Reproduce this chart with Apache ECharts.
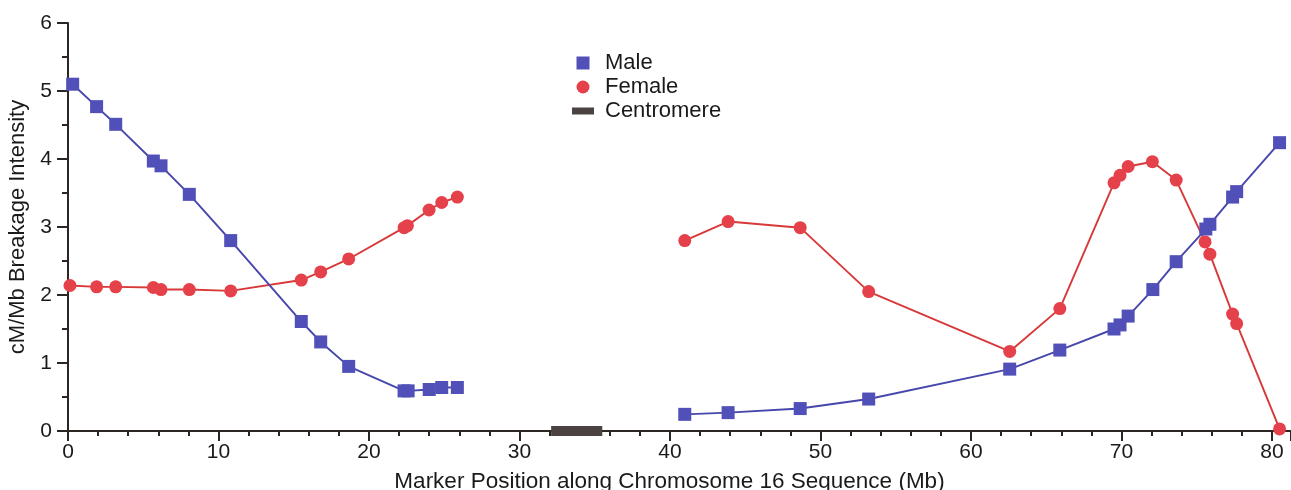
<!DOCTYPE html>
<html>
<head>
<meta charset="utf-8">
<script src="https://cdn.jsdelivr.net/npm/echarts@6/dist/echarts.min.js"></script>
<style>
  html, body { margin: 0; padding: 0; background: #fff; }
  #chart { width: 1291px; height: 490px; }
</style>
</head>
<body>
<div id="chart"></div>
<script>
// marker positions (Mb) and breakage intensity, short arm and long arm
const maleLeftPos = [0.31, 1.9, 3.17, 5.67, 6.18, 8.06, 10.81, 15.5, 16.79, 18.65, 22.33, 22.6, 24.0, 24.83, 25.87]
const maleLeftVal = [5.10, 4.77, 4.51, 3.97, 3.90, 3.48, 2.80, 1.61, 1.31, 0.95, 0.59, 0.59, 0.61, 0.64, 0.64]
const femaleLeftPos = [0.13, 1.9, 3.17, 5.67, 6.18, 8.06, 10.81, 15.5, 16.79, 18.65, 22.33, 22.55, 23.99, 24.83, 25.87]
const femaleLeftVal = [2.14, 2.12, 2.12, 2.11, 2.08, 2.08, 2.06, 2.22, 2.34, 2.53, 2.99, 3.02, 3.25, 3.36, 3.44]

const maleRightPos = [40.98, 43.86, 48.65, 53.2, 62.57, 65.9, 69.5, 69.9, 70.44, 72.08, 73.63, 75.6, 75.87, 77.38, 77.65, 80.5]
const maleRightVal = [0.245, 0.27, 0.33, 0.47, 0.91, 1.19, 1.50, 1.56, 1.69, 2.08, 2.49, 2.97, 3.04, 3.44, 3.52, 4.24]
const femaleRightPos = [40.98, 43.86, 48.65, 53.2, 62.57, 65.9, 69.5, 69.9, 70.44, 72.05, 73.63, 75.55, 75.87, 77.38, 77.65, 80.5]
const femaleRightVal = [2.80, 3.08, 2.99, 2.05, 1.17, 1.80, 3.65, 3.76, 3.89, 3.96, 3.69, 2.78, 2.60, 1.72, 1.58, 0.03]

const centromereStart = [32.1]
const centromereEnd = [35.5]

const font = 'Liberation Sans, Arial, Helvetica, sans-serif'
const textColor = '#1a1a1a'
const axisColor = '#2b2523'
const maleColor = '#5050b8'
const maleLine = '#4646ac'
const femaleColor = '#e5414a'
const femaleLine = '#d93838'

function pairs(xs, ys) {
    return xs.map((x, i) => [x, ys[i]])
}

const chart = echarts.init(document.getElementById('chart'))

function lineSeries(name, xs, ys, color, lineColor, symbol) {
    return {
        name: name,
        type: 'line',
        data: pairs(xs, ys),
        symbol: symbol,
        symbolSize: 13,
        itemStyle: { color: color },
        lineStyle: { color: lineColor, width: 1.9 },
        emphasis: { disabled: true },
        animation: false
    }
}

const option = {
    backgroundColor: '#fff',
    grid: { left: 68, right: 0, top: 23, bottom: 59, containLabel: false, outerBoundsMode: 'none' },
    legend: {
        orient: 'vertical',
        left: 567,
        top: 47,
        itemWidth: 22,
        itemHeight: 13,
        itemGap: 2,
        textStyle: { fontFamily: font, fontSize: 22, color: textColor, lineHeight: 22, padding: [0, 0, 0, 6] },
        data: [
            { name: 'Male', icon: 'path://M0,0H10V10H0Z', itemStyle: { color: maleColor } },
            { name: 'Female', icon: 'circle', itemStyle: { color: femaleColor } },
            { name: 'Centromere', icon: 'path://M0,0H22V7H0Z', itemStyle: { color: '#4b4341' } }
        ],
        selectedMode: false
    },
    xAxis: [{
        type: 'value',
        min: 0,
        max: 81.26,
        interval: 10,
        name: 'Marker Position along Chromosome 16 Sequence (Mb)',
        nameLocation: 'middle',
        nameGap: 39,
        nameTextStyle: { fontFamily: font, fontSize: 22.5, color: textColor, padding: [0, 20, 0, 0] },
        axisLine: { onZero: false, lineStyle: { color: axisColor, width: 2 } },
        axisTick: { length: 10, lineStyle: { color: axisColor, width: 2 } },
        minorTick: { show: true, splitNumber: 5, length: 5, lineStyle: { color: axisColor, width: 2 } },
        axisLabel: { fontFamily: font, fontSize: 21, color: textColor, margin: 11, showMaxLabel: false },
        splitLine: { show: false }
    }, {
        type: 'value',
        position: 'top',
        min: 0,
        max: 81.26,
        axisLine: { show: true, lineStyle: { color: axisColor, width: 2 } },
        axisTick: { show: false },
        axisLabel: { show: false },
        splitLine: { show: false }
    }],
    yAxis: {
        type: 'value',
        min: 0,
        max: 6,
        interval: 1,
        name: 'cM/Mb Breakage Intensity',
        nameLocation: 'middle',
        nameGap: 35,
        nameTextStyle: { fontFamily: font, fontSize: 22, color: textColor },
        axisLine: { show: true, lineStyle: { color: axisColor, width: 2 } },
        axisTick: { show: true, length: 11, lineStyle: { color: axisColor, width: 2 } },
        minorTick: { show: true, splitNumber: 2, length: 6, lineStyle: { color: axisColor, width: 2 } },
        axisLabel: { fontFamily: font, fontSize: 21, color: textColor, margin: 16 },
        splitLine: { show: false }
    },
    series: [
        lineSeries('Female', femaleLeftPos, femaleLeftVal, femaleColor, femaleLine, 'circle'),
        lineSeries('Female', femaleRightPos, femaleRightVal, femaleColor, femaleLine, 'circle'),
        lineSeries('Male', maleLeftPos, maleLeftVal, maleColor, maleLine, 'rect'),
        lineSeries('Male', maleRightPos, maleRightVal, maleColor, maleLine, 'rect'),
        {
            name: 'Centromere',
            type: 'custom',
            data: centromereStart.map((s, i) => [s, centromereEnd[i]]),
            itemStyle: { color: '#4b4341' },
            renderItem: function (params, api) {
                const a = api.coord([api.value(0), 0])
                const b = api.coord([api.value(1), 0])
                return {
                    type: 'rect',
                    shape: { x: a[0], y: a[1] - 5, width: b[0] - a[0], height: 10 },
                    style: { fill: '#4b4341' }
                }
            },
            z: 5,
            animation: false
        }
    ]
}

chart.setOption(option)
</script>
</body>
</html>
